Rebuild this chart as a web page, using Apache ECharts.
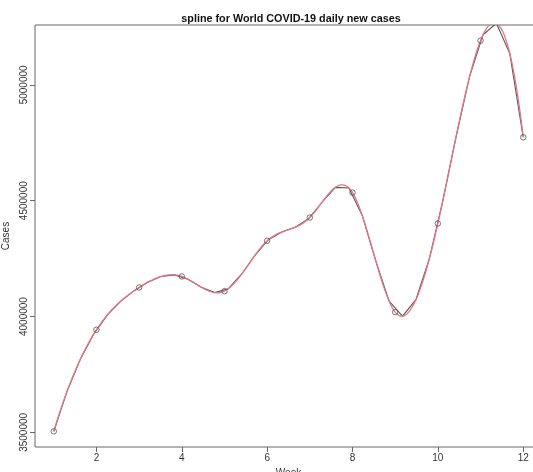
<!DOCTYPE html>
<html style="height: 100%">
  <head>
    <meta charset="utf-8" />
  </head>
  <body style="height: 100%; margin: 0; background: #fff">
    <div id="container" style="width: 533px; height: 472px"></div>
    <script src="https://cdn.jsdelivr.net/npm/echarts@6/dist/echarts.min.js"></script>
    <script type="text/javascript">
      // weekly world new cases
      var weeks = [1, 2, 3, 4, 5, 6, 7, 8, 9, 10, 11, 12];
      var cases = [
        3504300, 3943000, 4125500, 4173000, 4109600, 4327000,
        4427500, 4535000, 4019000, 4401600, 5191000, 4774000
      ];
      var xTicks = [2, 4, 6, 8, 10, 12];
      var yTicks = [3500000, 4000000, 4500000, 5000000];

      var pts = weeks.map(function (w, i) {
        return [w, cases[i]];
      });

      // cubic spline through the points (fmm end conditions, like R's spline())
      function splineCoef(x, y) {
        var n = x.length, nm1 = n - 1, i, t;
        var b = [], c = [], d = [];
        d[0] = x[1] - x[0];
        c[1] = (y[1] - y[0]) / d[0];
        for (i = 1; i < nm1; i++) {
          d[i] = x[i + 1] - x[i];
          b[i] = 2 * (d[i - 1] + d[i]);
          c[i + 1] = (y[i + 1] - y[i]) / d[i];
          c[i] = c[i + 1] - c[i];
        }
        b[0] = -d[0];
        b[nm1] = -d[n - 2];
        c[0] = c[nm1] = 0;
        if (n > 3) {
          c[0] = c[2] / (x[3] - x[1]) - c[1] / (x[2] - x[0]);
          c[nm1] = c[n - 2] / (x[nm1] - x[n - 3]) - c[n - 3] / (x[n - 2] - x[n - 4]);
          c[0] = c[0] * d[0] * d[0] / (x[3] - x[0]);
          c[nm1] = -c[nm1] * d[n - 2] * d[n - 2] / (x[nm1] - x[n - 4]);
        }
        for (i = 1; i <= nm1; i++) {
          t = d[i - 1] / b[i - 1];
          b[i] = b[i] - t * d[i - 1];
          c[i] = c[i] - t * c[i - 1];
        }
        c[nm1] = c[nm1] / b[nm1];
        for (i = n - 2; i >= 0; i--) c[i] = (c[i] - d[i] * c[i + 1]) / b[i];
        b[nm1] = (y[nm1] - y[n - 2]) / d[n - 2] + d[n - 2] * (c[n - 2] + 2 * c[nm1]);
        for (i = 0; i < nm1; i++) {
          b[i] = (y[i + 1] - y[i]) / d[i] - d[i] * (c[i + 1] + 2 * c[i]);
          d[i] = (c[i + 1] - c[i]) / d[i];
          c[i] = 3 * c[i];
        }
        c[nm1] = 3 * c[nm1];
        d[nm1] = d[n - 2];
        return { b: b, c: c, d: d };
      }

      var coef = splineCoef(weeks, cases);

      function splineAt(u) {
        var i = 0;
        while (i < weeks.length - 2 && u > weeks[i + 1]) i++;
        var dx = u - weeks[i];
        return cases[i] + dx * (coef.b[i] + dx * (coef.c[i] + dx * coef.d[i]));
      }

      function curve(n, api) {
        var x0 = weeks[0], x1 = weeks[weeks.length - 1], out = [];
        for (var k = 0; k < n; k++) {
          var u = x0 + (x1 - x0) * k / (n - 1);
          out.push(api.coord([u, splineAt(u)]));
        }
        return out;
      }

      var dom = document.getElementById("container");
      var myChart = echarts.init(dom);
      var font = "Liberation Sans, Arial, sans-serif";

      var option = {
        animation: false,
        backgroundColor: "#fff",
        title: {
          text: "spline for World COVID-19 daily new cases",
          left: 286,
          top: 9,
          textAlign: "center",
          textStyle: {
            fontFamily: font,
            fontSize: 10.8,
            fontWeight: "bold",
            color: "#111"
          }
        },
        grid: {
          left: 35,
          right: -9,
          top: 25,
          bottom: 25,
          show: true,
          borderColor: "#666",
          borderWidth: 1,
          outerBoundsMode: "none"
        },
        xAxis: {
          type: "value",
          min: 0.56,
          max: 12.44,
          name: "Week",
          nameLocation: "middle",
          nameGap: 21,
          nameTextStyle: { fontFamily: font, fontSize: 10, color: "#333" },
          splitLine: { show: false },
          axisLine: { show: false },
          axisTick: {
            show: true,
            length: 5,
            lineStyle: { color: "#666" },
            customValues: xTicks
          },
          axisLabel: {
            margin: 6,
            fontFamily: font,
            fontSize: 10,
            color: "#333",
            customValues: xTicks
          }
        },
        yAxis: {
          type: "value",
          min: 3436800,
          max: 5258500,
          name: "Cases",
          nameLocation: "middle",
          nameGap: 20,
          nameTextStyle: { fontFamily: font, fontSize: 10, color: "#333" },
          splitLine: { show: false },
          axisLine: { show: false },
          axisTick: {
            show: true,
            length: 5,
            lineStyle: { color: "#666" },
            customValues: yTicks
          },
          axisLabel: {
            rotate: 90,
            margin: 6,
            fontFamily: font,
            fontSize: 10,
            color: "#333",
            customValues: yTicks,
            formatter: function (v) {
              return String(v);
            }
          }
        },
        series: [
          {
            name: "spline",
            type: "custom",
            data: pts,
            encode: { x: 0, y: 1 },
            renderItem: function (params, api) {
              if (params.dataIndex !== 0) return;
              var cs = params.coordSys;
              return {
                type: "group",
                clipPath: {
                  type: "rect",
                  shape: { x: cs.x, y: cs.y, width: cs.width, height: cs.height }
                },
                children: [
                  {
                    type: "polyline",
                    shape: { points: curve(36, api) },
                    style: { stroke: "#555", lineWidth: 1.1, fill: null }
                  },
                  {
                    type: "polyline",
                    shape: { points: curve(300, api) },
                    style: { stroke: "#e47582", lineWidth: 1.3, fill: null }
                  }
                ]
              };
            },
            z: 2
          },
          {
            name: "weeks",
            type: "scatter",
            data: pts,
            symbol: "circle",
            symbolSize: 5.5,
            itemStyle: {
              color: "rgba(0,0,0,0)",
              borderColor: "#555",
              borderWidth: 1
            },
            z: 3
          }
        ]
      };

      myChart.setOption(option);
    </script>
  </body>
</html>
